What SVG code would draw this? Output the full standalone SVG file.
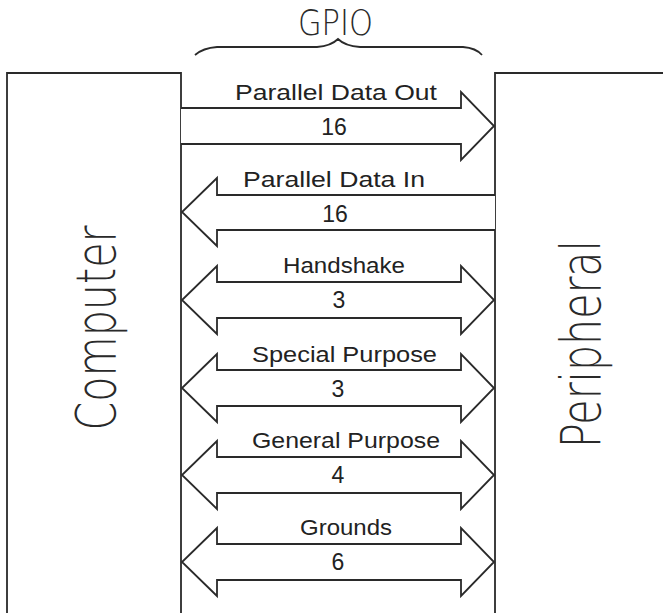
<svg xmlns="http://www.w3.org/2000/svg" width="663" height="613" viewBox="0 0 663 613">
<style>
.ln{fill:none;stroke:#2a2a2a;stroke-width:1.8;stroke-linejoin:miter}
.ar{fill:#fff;stroke:#2a2a2a;stroke-width:1.8;stroke-linejoin:miter}
.lb{font-family:"Liberation Sans",Arial,sans-serif;font-size:22px;fill:#222}
.nm{font-family:"Liberation Sans",Arial,sans-serif;font-size:23px;fill:#222;text-anchor:middle}
.big{font-family:"DejaVu Sans","Liberation Sans",sans-serif;font-weight:200;fill:#2a2a2a}
</style>
<rect width="663" height="613" fill="#fff"/>
<g id="computer">
<path class="ln" d="M7,613 V73 H181 V613"/>
<text class="big" font-size="55" text-anchor="middle" textLength="205" lengthAdjust="spacingAndGlyphs" transform="translate(115,328) rotate(-90)">Computer</text>
</g>
<g id="peripheral">
<path class="ln" d="M495,613 V73 H663"/>
<text class="big" font-size="55" text-anchor="middle" textLength="208" lengthAdjust="spacingAndGlyphs" transform="translate(600,344) rotate(-90)">Peripheral</text>
</g>
<g id="gpio">
<path class="ln" d="M195,55 Q203,48 217,47 H317 Q331,46 338,39 Q345,46 360,47 H463 Q476,48 482,55"/>
<text class="big" font-size="36" x="298" y="35" textLength="75" lengthAdjust="spacingAndGlyphs">GPIO</text>
</g>
<g id="connectors">
<path class="ar" d="M181,108 H461 V92 L494,126 L461,160 V144 H181"/>
<path class="ar" d="M495,195 H217 V178 L182,212 L217,246 V230 H495"/>
<path class="ar" d="M217,282 V266 L182,300 L217,334 V318 H461 V334 L494,300 L461,266 V282 Z"/>
<path class="ar" d="M217,370 V354 L182,388 L217,422 V406 H461 V422 L494,388 L461,354 V370 Z"/>
<path class="ar" d="M217,457 V441 L182,475 L217,509 V493 H461 V509 L494,475 L461,441 V457 Z"/>
<path class="ar" d="M217,544 V528 L182,562 L217,596 V580 H461 V596 L494,562 L461,528 V544 Z"/>
</g>
<g id="labels">
<text class="lb" x="235" y="100" textLength="202" lengthAdjust="spacingAndGlyphs">Parallel Data Out</text>
<text class="nm" x="334" y="135">16</text>
<text class="lb" x="243" y="187" textLength="182" lengthAdjust="spacingAndGlyphs">Parallel Data In</text>
<text class="nm" x="335" y="222">16</text>
<text class="lb" x="283" y="273" textLength="122" lengthAdjust="spacingAndGlyphs">Handshake</text>
<text class="nm" x="339" y="308">3</text>
<text class="lb" x="252" y="362" textLength="185" lengthAdjust="spacingAndGlyphs">Special Purpose</text>
<text class="nm" x="338" y="397">3</text>
<text class="lb" x="252" y="448" textLength="188" lengthAdjust="spacingAndGlyphs">General Purpose</text>
<text class="nm" x="338" y="483">4</text>
<text class="lb" x="300" y="535" textLength="92" lengthAdjust="spacingAndGlyphs">Grounds</text>
<text class="nm" x="338" y="570">6</text>
</g>
</svg>
